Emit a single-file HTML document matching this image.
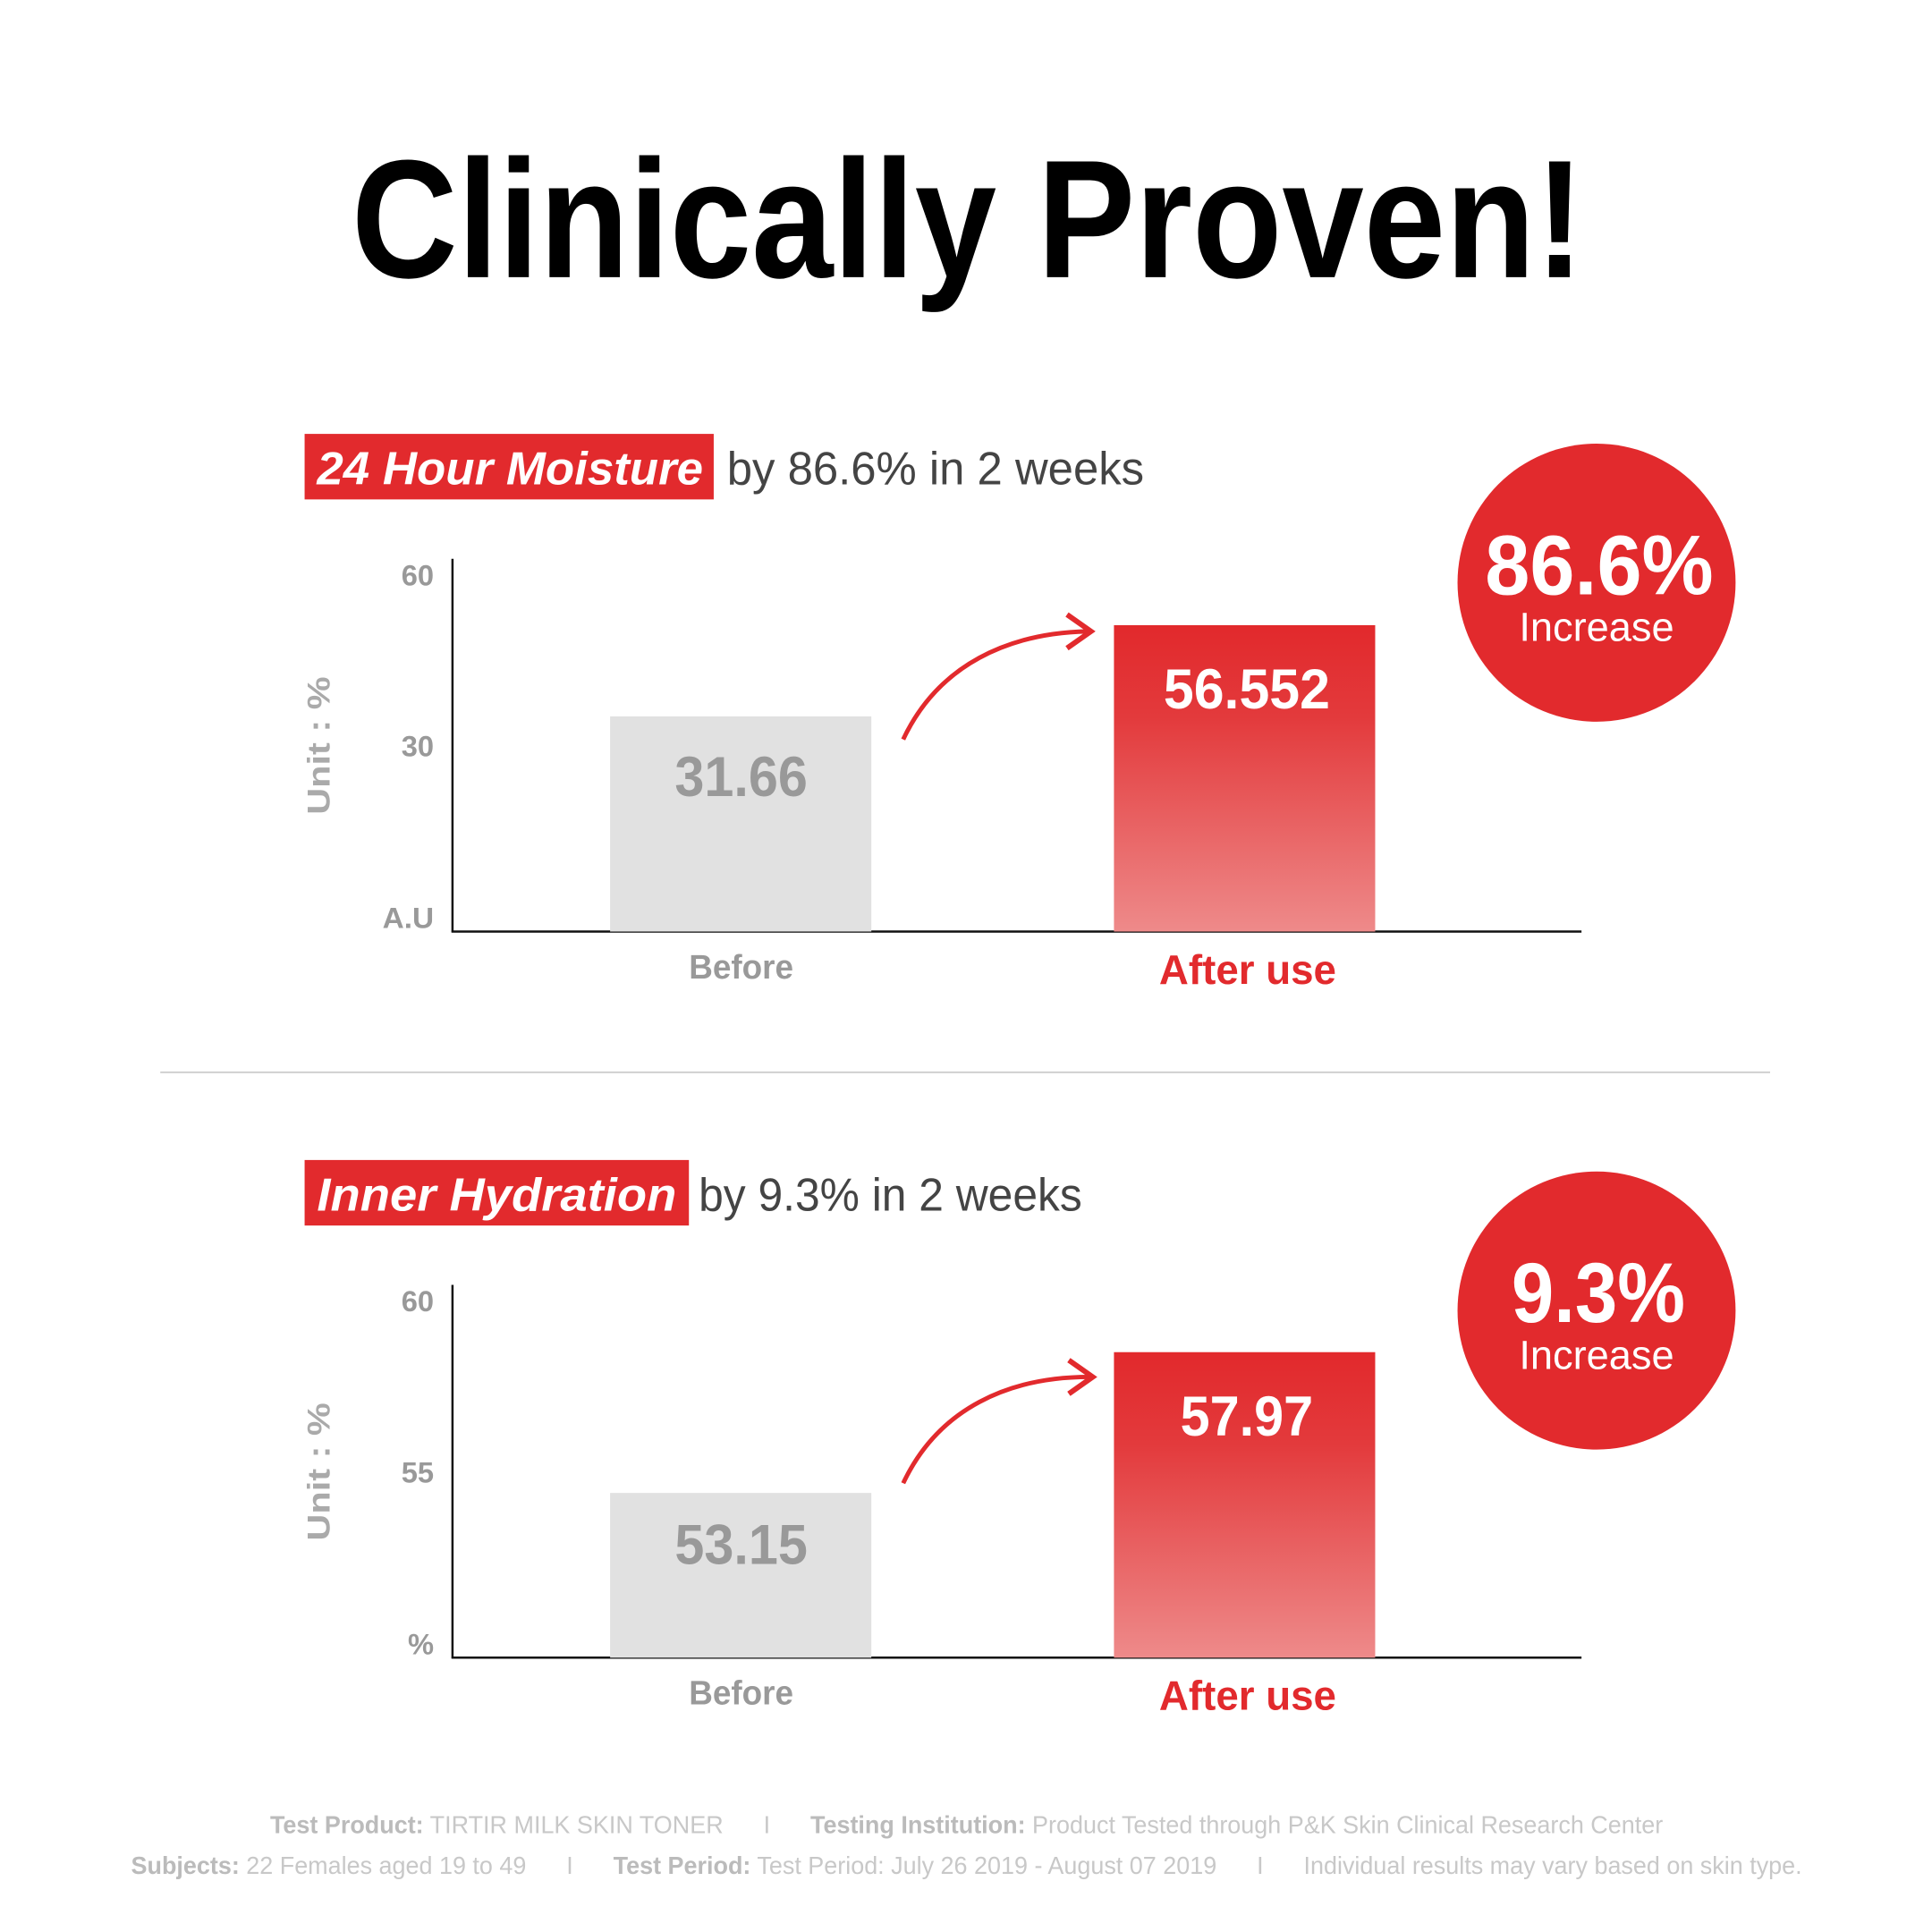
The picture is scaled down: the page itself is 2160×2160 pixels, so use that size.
<!DOCTYPE html>
<html><head><meta charset="utf-8"><style>html,body{margin:0;padding:0;background:#fff}svg{display:block}</style></head>
<body>
<svg width="2160" height="2160" viewBox="0 0 2160 2160" xmlns="http://www.w3.org/2000/svg" font-family="Liberation Sans, sans-serif">
<defs>
<linearGradient id="g" x1="0" y1="0" x2="0" y2="1">
<stop offset="0" stop-color="#e2292c"/><stop offset="0.3" stop-color="#e33a3c"/><stop offset="1" stop-color="#ee8a8a"/>
</linearGradient>
</defs>
<rect width="2160" height="2160" fill="#fff"/>
<g transform="scale(0.99)">
<text x="397" y="313" font-size="190" font-weight="bold" fill="#000" textLength="1392" lengthAdjust="spacingAndGlyphs">Clinically Proven!</text>

<g id="c1">
<rect x="344" y="490" width="462" height="74" fill="#e22a2d"/>
<text x="358" y="547" font-size="52" font-weight="bold" font-style="italic" fill="#fff" textLength="436" lengthAdjust="spacingAndGlyphs">24 Hour Moisture</text>
<text x="821" y="547" font-size="52" fill="#444" textLength="471" lengthAdjust="spacingAndGlyphs">by 86.6% in 2 weeks</text>
<circle cx="1803" cy="658" r="157" fill="#e22a2d"/>
<text x="1806" y="671" font-size="96" font-weight="bold" fill="#fff" text-anchor="middle" textLength="258" lengthAdjust="spacingAndGlyphs">86.6%</text>
<text x="1803" y="724" font-size="46" fill="#fff" text-anchor="middle" textLength="175" lengthAdjust="spacingAndGlyphs">Increase</text>
<line x1="511" y1="631" x2="511" y2="1053" stroke="#111" stroke-width="2.5"/>
<line x1="510" y1="1052" x2="1786" y2="1052" stroke="#111" stroke-width="2.5"/>
<g font-size="33" font-weight="bold" fill="#999" text-anchor="end">
<text x="490" y="661">60</text><text x="490" y="854">30</text><text x="490" y="1048" textLength="58" lengthAdjust="spacingAndGlyphs">A.U</text>
</g>
<text transform="translate(372,842) rotate(-90)" font-size="36" font-weight="bold" fill="#aaa" text-anchor="middle" textLength="156" lengthAdjust="spacingAndGlyphs">Unit : %</text>
<rect x="689" y="809" width="295" height="243" fill="#e1e1e1"/>
<text x="837" y="899" font-size="64" font-weight="bold" fill="#999" text-anchor="middle" textLength="150" lengthAdjust="spacingAndGlyphs">31.66</text>
<rect x="1258" y="706" width="295" height="346" fill="url(#g)"/>
<text x="1408" y="800" font-size="64" font-weight="bold" fill="#fff" text-anchor="middle" textLength="188" lengthAdjust="spacingAndGlyphs">56.552</text>
<path d="M1020,835 C1060,750 1140,715 1228,713" fill="none" stroke="#e22a2d" stroke-width="5"/>
<path d="M1205,694 L1232,713 L1205,732" fill="none" stroke="#e22a2d" stroke-width="6"/>
<text x="837" y="1105" font-size="38" font-weight="bold" fill="#999" text-anchor="middle" textLength="118" lengthAdjust="spacingAndGlyphs">Before</text>
<text x="1409" y="1111" font-size="47" font-weight="bold" fill="#e22a2d" text-anchor="middle" textLength="200" lengthAdjust="spacingAndGlyphs">After use</text>
</g>

<line x1="181" y1="1211" x2="1999" y2="1211" stroke="#d0d0d0" stroke-width="2"/>

<g transform="translate(0,820)">
<rect x="344" y="490" width="434" height="74" fill="#e22a2d"/>
<text x="358" y="547" font-size="52" font-weight="bold" font-style="italic" fill="#fff" textLength="406" lengthAdjust="spacingAndGlyphs">Inner Hydration</text>
<text x="789" y="547" font-size="52" fill="#444" textLength="433" lengthAdjust="spacingAndGlyphs">by 9.3% in 2 weeks</text>
<circle cx="1803" cy="660" r="157" fill="#e22a2d"/>
<text x="1805" y="673" font-size="96" font-weight="bold" fill="#fff" text-anchor="middle" textLength="196" lengthAdjust="spacingAndGlyphs">9.3%</text>
<text x="1803" y="726" font-size="46" fill="#fff" text-anchor="middle" textLength="175" lengthAdjust="spacingAndGlyphs">Increase</text>
<line x1="511" y1="631" x2="511" y2="1053" stroke="#111" stroke-width="2.5"/>
<line x1="510" y1="1052" x2="1786" y2="1052" stroke="#111" stroke-width="2.5"/>
<g font-size="33" font-weight="bold" fill="#999" text-anchor="end">
<text x="490" y="661">60</text><text x="490" y="854">55</text><text x="490" y="1048">%</text>
</g>
<text transform="translate(372,842) rotate(-90)" font-size="36" font-weight="bold" fill="#aaa" text-anchor="middle" textLength="156" lengthAdjust="spacingAndGlyphs">Unit : %</text>
<rect x="689" y="866" width="295" height="186" fill="#e1e1e1"/>
<text x="837" y="946" font-size="64" font-weight="bold" fill="#999" text-anchor="middle" textLength="150" lengthAdjust="spacingAndGlyphs">53.15</text>
<rect x="1258" y="707" width="295" height="345" fill="url(#g)"/>
<text x="1408" y="801" font-size="64" font-weight="bold" fill="#fff" text-anchor="middle" textLength="150" lengthAdjust="spacingAndGlyphs">57.97</text>
<path d="M1020,855 C1060,770 1140,735 1230,735" fill="none" stroke="#e22a2d" stroke-width="5"/>
<path d="M1207,716 L1234,735 L1207,754" fill="none" stroke="#e22a2d" stroke-width="6"/>
<text x="837" y="1105" font-size="38" font-weight="bold" fill="#999" text-anchor="middle" textLength="118" lengthAdjust="spacingAndGlyphs">Before</text>
<text x="1409" y="1111" font-size="47" font-weight="bold" fill="#e22a2d" text-anchor="middle" textLength="200" lengthAdjust="spacingAndGlyphs">After use</text>
</g>

<text xml:space="preserve" x="305" y="2070" font-size="28" fill="#c8c8c8" textLength="1573" lengthAdjust="spacingAndGlyphs"><tspan font-weight="bold" fill="#bbb">Test Product:</tspan> TIRTIR MILK SKIN TONER      I      <tspan font-weight="bold" fill="#bbb">Testing Institution:</tspan> Product Tested through P&amp;K Skin Clinical Research Center</text>
<text xml:space="preserve" x="148" y="2116" font-size="28" fill="#c8c8c8" textLength="1887" lengthAdjust="spacingAndGlyphs"><tspan font-weight="bold" fill="#bbb">Subjects:</tspan> 22 Females aged 19 to 49      I      <tspan font-weight="bold" fill="#bbb">Test Period:</tspan> Test Period: July 26 2019 - August 07 2019      I      Individual results may vary based on skin type.</text>
</g>
</svg>
</body></html>
